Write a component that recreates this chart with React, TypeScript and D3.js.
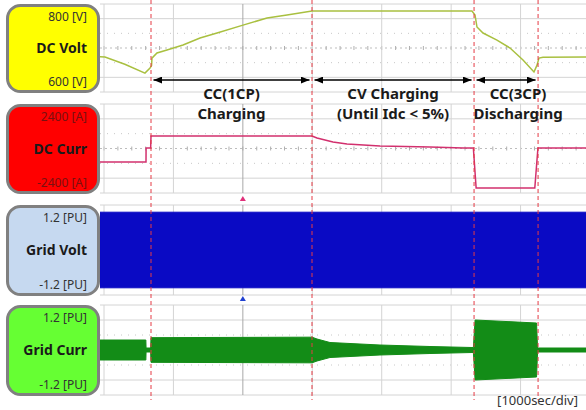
import React from 'react';
import * as d3 from 'd3';

// ---- data (time in seconds, 1000 sec/div) ----
const gridTimes = [0, 1000, 2000, 3000, 4000, 5000, 6000, 7000];
const minorTimes = d3.range(0, 7001, 200);
const eventTimes = [677, 2996, 5330, 6252];
const cursorTime = 2000;

const panelTitles = ['DC Volt', 'DC Curr', 'Grid Volt', 'Grid Curr'];
const topLabels = ['800  [V]', '2400  [A]', '1.2 [PU]', '1.2 [PU]'];
const bottomLabels = ['600  [V]', '-2400  [A]', '-1.2 [PU]', '-1.2 [PU]'];

const phaseLine1 = ['CC(1CP)', 'CV Charging', 'CC(3CP)'];
const phaseLine2 = ['Charging', '(Until Idc < 5%)', 'Discharging'];

// DC voltage [V]
const voltTime = [-60, 14, 300, 590, 663, 685, 691, 763, 907, 1138, 1383, 1628, 2002, 2348, 2636, 2996, 5300, 5344, 5372, 5459, 5660, 5848, 6035, 6193, 6237, 6265, 6323, 6942, 7000];
const voltValue = [680, 679.5, 663, 643, 654.5, 660, 677, 688.6, 695.5, 706.8, 722.7, 734, 752, 768, 775, 784, 784, 775, 747.7, 734, 718, 700, 672.7, 645.5, 661, 677, 679, 679.5, 679.5];

// DC current [A]
const currTime = [-60, 605, 606, 672, 677, 2996, 3068, 3298, 3500, 3975, 4695, 5171, 5320, 5360, 6205, 6250, 7000];
const currValue = [-840, -840, 0, 0, 720, 720, 600, 360, 240, 120, 60, 0, 0, -2400, -2400, 0, 0];

// Grid voltage envelope amplitude [PU]
const gvTime = [-60, 7000];
const gvAmp = [1.08, 1.08];

// Grid current envelope amplitude [PU]
const gcTime = [-60, 603, 606, 672, 677, 2996, 3068, 3255, 3543, 3975, 4695, 5300, 5320, 5345, 6230, 6245, 7000];
const gcAmp = [0.3, 0.3, 0.06, 0.06, 0.37, 0.385, 0.33, 0.225, 0.195, 0.15, 0.105, 0.075, 0.075, 0.9, 0.81, 0.06, 0.06];

const FONT = '"Noto Sans", "Open Sans", sans-serif';

export default function App() {
  const X0 = 100;
  const X1 = 586;
  const x = d3.scaleLinear().domain([0, 7000]).range([104, 590]);

  const panels = [
    { top: 4, bottom: 92, fill: '#ffff00', labelColor: '#333', y: d3.scaleLinear().domain([600, 800]).range([92, 4]) },
    { top: 104, bottom: 193, fill: '#ff0000', labelColor: '#7a1010', y: d3.scaleLinear().domain([-2400, 2400]).range([188, 108]) },
    { top: 205, bottom: 295, fill: '#c6d9f0', labelColor: '#333', y: d3.scaleLinear().domain([-1.2, 1.2]).range([292, 208]) },
    { top: 305, bottom: 395, fill: '#66ff33', labelColor: '#333', y: d3.scaleLinear().domain([-1.2, 1.2]).range([390, 310]) },
  ];

  const voltData = voltTime.map((t, i) => [t, voltValue[i]] as [number, number]);
  const currData = currTime.map((t, i) => [t, currValue[i]] as [number, number]);
  const gvData = gvTime.map((t, i) => [t, gvAmp[i]] as [number, number]);
  const gcData = gcTime.map((t, i) => [t, gcAmp[i]] as [number, number]);

  const voltLine = d3.line<[number, number]>().x(d => x(d[0])).y(d => panels[0].y(d[1]))(voltData) || '';
  const currLine = d3.line<[number, number]>().x(d => x(d[0])).y(d => panels[1].y(d[1]))(currData) || '';
  const gvArea = d3.area<[number, number]>().x(d => x(d[0])).y0(d => panels[2].y(-d[1])).y1(d => panels[2].y(d[1]))(gvData) || '';
  const gcArea = d3.area<[number, number]>().x(d => x(d[0])).y0(d => panels[3].y(-d[1])).y1(d => panels[3].y(d[1]))(gcData) || '';

  const solidFr = [0, 1 / 6, 5 / 6, 1];
  const dottedFr = [2 / 6, 4 / 6];

  const arrowY = 80;
  const textOffsets = [0, 0, 12];

  return (
    <svg width={586} height={410} style={{ position: 'absolute', left: 0, top: 0, background: '#fff' }} fontFamily={FONT}>
      <defs>
        <clipPath id="plotclip">
          <rect x={X0} y={0} width={X1 - X0} height={410} />
        </clipPath>
        <marker id="arr" viewBox="0 0 10 8" refX={10} refY={4} markerWidth={9} markerHeight={7} markerUnits="userSpaceOnUse" orient="auto-start-reverse">
          <path d="M0,0 L10,4 L0,8 z" fill="#000" />
        </marker>
      </defs>
      <rect x={0} y={0} width={586} height={410} fill="#fff" />
      {panels.map((p, i) => {
        const h = p.bottom - p.top;
        const cy = p.top + h / 2;
        return (
          <g key={'grid' + i}>
            {solidFr.map((f, j) => (
              <line key={'s' + j} x1={X0} x2={X1} y1={p.top + f * h} y2={p.top + f * h} stroke="#d4d4d4" strokeWidth={1} />
            ))}
            {dottedFr.map((f, j) => (
              <line key={'d' + j} x1={X0} x2={X1} y1={p.top + f * h} y2={p.top + f * h} stroke="#c8c8c8" strokeWidth={1} strokeDasharray="1,6" />
            ))}
            <line x1={X0} x2={X1} y1={cy} y2={cy} stroke="#bdbdbd" strokeWidth={1} strokeDasharray="2,3" />
            {minorTimes.map((t, j) => (
              <line key={'m' + j} x1={x(t)} x2={x(t)} y1={cy - 2} y2={cy + 2} stroke="#b0b0b0" strokeWidth={1} />
            ))}
            {gridTimes.filter(t => x(t) >= X0 && x(t) <= X1).map((t, j) => (
              <line key={'v' + j} x1={x(t)} x2={x(t)} y1={p.top} y2={p.bottom} stroke={t === cursorTime ? '#a8a8a8' : '#d4d4d4'} strokeWidth={1} />
            ))}
          </g>
        );
      })}
      <g clipPath="url(#plotclip)">
        <path d={gvArea} fill="#0a0ac4" stroke="#0a0ac4" strokeWidth={1} />
        <path d={gcArea} fill="#138c17" stroke="#138c17" strokeWidth={1} />
        <path d={voltLine} fill="none" stroke="#a9c040" strokeWidth={1.5} />
        <path d={currLine} fill="none" stroke="#d2306e" strokeWidth={1.5} />
      </g>
      {eventTimes.map((t, i) => (
        <line key={'ev' + i} x1={x(t)} x2={x(t)} y1={0} y2={400} stroke="#e53a44" strokeWidth={1} strokeDasharray="4,3" />
      ))}
      <path d={`M${x(cursorTime) - 3},${201} L${x(cursorTime) + 3},${201} L${x(cursorTime)},${196} Z`} fill="#e0307a" />
      <path d={`M${x(cursorTime) - 3},${301} L${x(cursorTime) + 3},${301} L${x(cursorTime)},${296} Z`} fill="#2040d0" />
      {phaseLine1.map((s, i) => {
        const a = x(eventTimes[i]) + 2.5;
        const b = x(eventTimes[i + 1]) - 2.5;
        const mid = (a + b) / 2 + textOffsets[i];
        return (
          <g key={'ph' + i}>
            <line x1={a} x2={b} y1={arrowY} y2={arrowY} stroke="#000" strokeWidth={1.5} markerStart="url(#arr)" markerEnd="url(#arr)" />
            <text x={mid} y={98.5} textAnchor="middle" fontSize={15} fontWeight="bold" fill="#1a1a1a">{s}</text>
            <text x={mid} y={119} textAnchor="middle" fontSize={15} fontWeight="bold" fill="#1a1a1a">{phaseLine2[i]}</text>
          </g>
        );
      })}
      {panels.map((p, i) => {
        const h = p.bottom - p.top;
        const cy = p.top + h / 2;
        return (
          <g key={'box' + i}>
            <rect x={7.5} y={p.top + 1.5} width={91} height={h - 2} rx={13} ry={13} fill={p.fill} stroke="#808080" strokeWidth={3} />
            <text x={87} y={p.top + 17} textAnchor="end" fontSize={12} fill={p.labelColor}>{topLabels[i]}</text>
            <text x={87} y={cy + 5} textAnchor="end" fontSize={14} fontWeight="bold" fill="#1a1a1a">{panelTitles[i]}</text>
            <text x={87} y={p.bottom - 6} textAnchor="end" fontSize={12} fill={p.labelColor}>{bottomLabels[i]}</text>
          </g>
        );
      })}
      <text x={578} y={405} textAnchor="end" fontSize={13} fill="#333">[1000sec/div]</text>
    </svg>
  );
}
